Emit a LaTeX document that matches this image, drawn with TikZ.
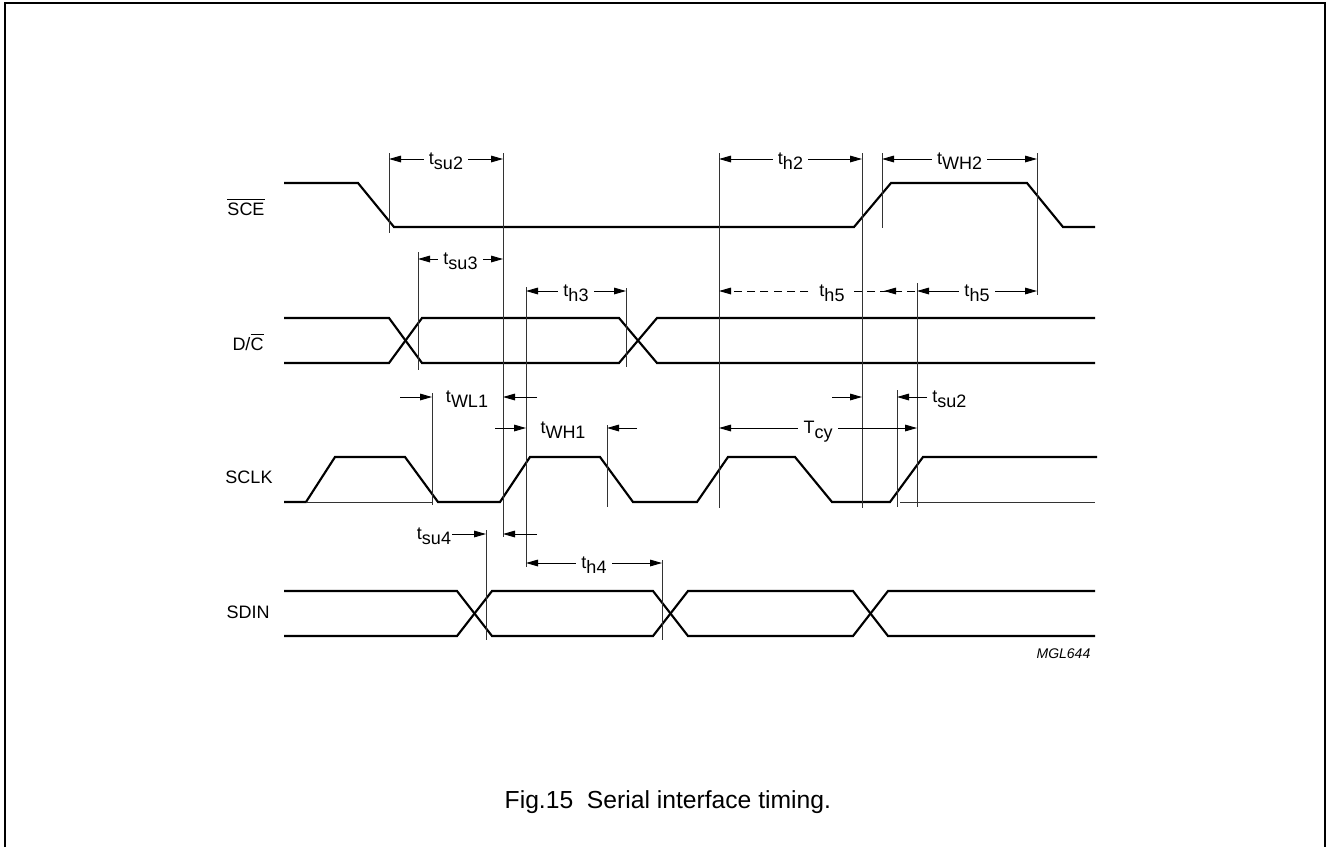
\documentclass[tikz,border=0pt]{standalone}
\usepackage{amsmath}
\usepackage{fontspec}
\setmainfont{Liberation Sans}
\usetikzlibrary{arrows.meta, positioning}

% timing parameter: t with a lowered index
\newcommand{\tpar}[1]{t\raisebox{-3.75pt}{#1}}

\begin{document}
\begin{tikzpicture}[
        x=0.75pt, y=-0.75pt,
        font=\fontsize{13.5pt}{15pt}\selectfont,
        wave/.style={line width=1.6pt, line join=miter},
        guide/.style={line width=0.6pt, black!80},
        dim/.style={{Triangle[length=9pt,width=5pt]}-{Triangle[length=9pt,width=5pt]}, line width=0.7pt},
        tip/.style={-{Triangle[length=9pt,width=5pt]}, line width=0.7pt},
        lbl/.style={fill=white, inner xsep=4pt, inner ysep=1pt, anchor=base, yshift=-3.75pt},
        signame/.style={anchor=base}
    ]
    \useasboundingbox (0,0) rectangle (1328,847);

    % Frame
    \draw[line width=1.5pt] (5,847) -- (5,2.5) -- (1325,2.5) -- (1325,847);

    % Signal names
    \node[signame] (sce) at (246,215) {$\overline{\mbox{SCE}}$};
    \node[signame] (dc) at (248,350) {D/$\overline{\mbox{C}}$};
    \node[signame] (sclk) at (249,483) {SCLK};
    \node[signame] (sdin) at (248,618) {SDIN};

    % SCE
    \draw[wave] (284,183) -- (358,183) -- (394,227) -- (854,227) -- (891,183)
        -- (1027,183) -- (1063,227) -- (1095,227);

    % D/C
    \draw[wave] (284,318) -- (389,318) -- (422,363) -- (619,363) -- (657,318) -- (1095,318);
    \draw[wave] (284,363) -- (389,363) -- (422,318) -- (619,318) -- (657,363) -- (1095,363);

    % SCLK
    \draw[wave] (284,502) -- (306,502) -- (335,457) -- (405,457) -- (438,502)
        -- (500,502) -- (530,457) -- (600,457) -- (633,502) -- (697,502)
        -- (728,457) -- (795,457) -- (832,502) -- (890,502) -- (923,457) -- (1097,457);
    \draw[guide] (306,502) -- (432,502);
    \draw[guide] (900,502) -- (1095,502);

    % SDIN
    \draw[wave] (284,591) -- (457,591) -- (492,636) -- (653,636) -- (688,591)
        -- (853,591) -- (888,636) -- (1095,636);
    \draw[wave] (284,636) -- (457,636) -- (492,591) -- (653,591) -- (688,636)
        -- (853,636) -- (888,591) -- (1095,591);

    % Reference lines
    \foreach \gx/\gt/\gb in {389/153/233, 503/153/537, 418/252/370, 526/287/567,
            626/288/367, 719/153/508, 862/153/508, 882/153/228, 1037/153/295,
            917/283/507, 897/390/507, 432/393/505, 607/425/507, 486/530/640, 662/560/640}
        \draw[guide] (\gx,\gt) -- (\gx,\gb);

    % Intervals between reference lines
    \foreach \xa/\xb/\yy/\idx/\nm in {389/503/159/su2/tsuA, 719/862/159/h2/thA,
            882/1037/159/WH2/twhA, 418/503/259/su3/tsuB, 526/626/291/h3/thB,
            917/1037/291/h5/thC, 526/662/563/h4/thD}
        \draw[dim] (\xa,\yy) -- node[lbl] (\nm) {\tpar{\idx}} (\xb,\yy);
    \draw[dim] (719,428) -- node[lbl] (tcy) {T\raisebox{-3.75pt}{cy}} (917,428);

    % Dashed hold time
    \draw[tip, dashed, dash pattern=on 6pt off 4pt] (915,291) -- (719,291);
    \draw[tip] (902,291) -- (884,291);
    \node[lbl] (thE) at (832,291) {\tpar{h5}};

    % Pulse widths and setup times
    \draw[tip] (400,397) -- (432,397);
    \node[lbl] (twlA) at (467,397) {\tpar{WL1}};
    \draw[tip] (537,397) -- (503,397);

    \draw[tip] (495,428) -- (526,428);
    \node[lbl] (twhB) at (563,428) {\tpar{WH1}};
    \draw[tip] (637,428) -- (607,428);

    \node[lbl] (tsuC) at (434,534) {\tpar{su4}};
    \draw[tip] (452,534) -- (486,534);
    \draw[tip] (537,534) -- (503,534);

    \draw[tip] (832,397) -- (862,397);
    \draw[tip] (927,397) -- (897,397);
    \node[lbl, anchor=base west, inner xsep=0pt] (tsuD) at (932,397) {\tpar{su2}};

    % Figure code and caption
    \node[anchor=base east, font=\fontsize{10.5pt}{12pt}\selectfont\itshape] (mgl) at (1095,658) {MGL644};
    \node[anchor=base west, font=\fontsize{18.5pt}{20pt}\selectfont] (cap) at (500,808) {Fig.15\ \ Serial interface timing.};

\end{tikzpicture}
\end{document}
